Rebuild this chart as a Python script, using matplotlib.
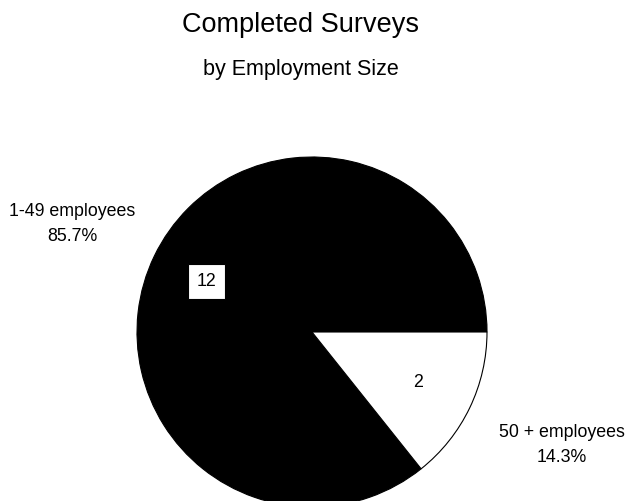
import matplotlib.pyplot as plt

plt.rcParams['font.family'] = ['Liberation Sans', 'DejaVu Sans']

# survey counts by employment size
categories = ['1-49 employees', '50 + employees']
counts = [12, 2]
colors = ['black', 'white']

W, H = 627, 501
fig = plt.figure(figsize=(W / 100, H / 100), dpi=100)
ax = fig.add_axes([0, 0, 1, 1])

total = sum(counts)
pct = [c / total * 100 for c in counts]
labels = [f'{name}\n{p:.1f}%' for name, p in zip(categories, pct)]

wedges, texts, autotexts = ax.pie(
    counts, labels=labels, colors=colors, startangle=0, counterclock=True,
    center=(312, H - 332), radius=175,
    autopct=lambda p: f'{round(p * total / 100)}', pctdistance=0.67,
    labeldistance=1.53,
    wedgeprops=dict(edgecolor='black', linewidth=0.8),
    textprops=dict(fontsize=12.8, color='black'))

# outer labels: centred, a little more line spacing
label_pos = [(72, H - 224), (562, H - 445)]
for t, pos in zip(texts, label_pos):
    t.set_position(pos)
    t.set_ha('center')
    t.set_va('center')
    t.set_linespacing(1.65)

autotexts[0].set_bbox(dict(boxstyle='square,pad=0.5', facecolor='white',
                           edgecolor='black', linewidth=0.8))

ax.set_xlim(0, W)
ax.set_ylim(0, H)
ax.set_aspect('equal')
ax.axis('off')

fig.text(301 / W, 1 - 32 / H, 'Completed Surveys', ha='center', va='baseline',
         fontsize=19.5)
fig.text(301 / W, 1 - 75 / H, 'by Employment Size', ha='center', va='baseline',
         fontsize=15.5)

fig.savefig('out.png', dpi=100, facecolor='white')
